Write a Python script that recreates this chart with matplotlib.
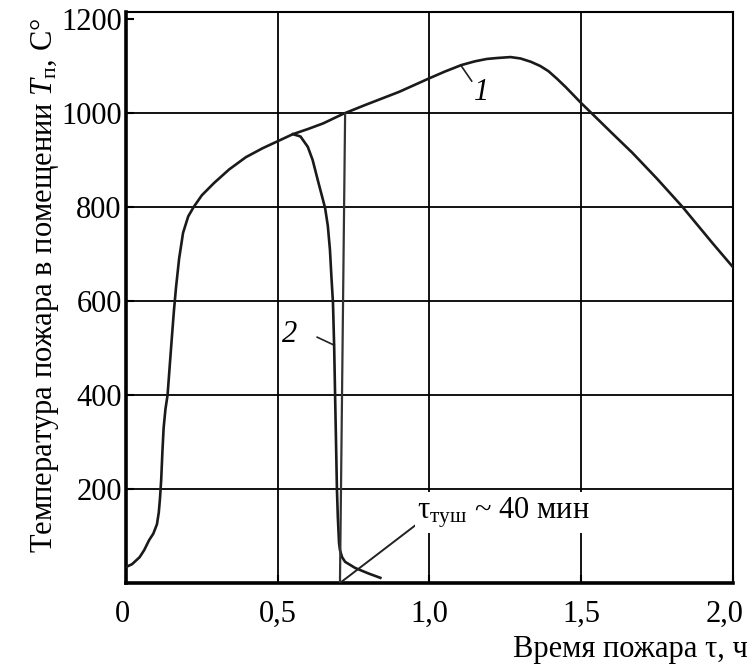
import matplotlib
matplotlib.use("Agg")
import matplotlib.pyplot as plt
import matplotlib.transforms as mtransforms

plt.rcParams['font.family'] = ['Liberation Serif', 'DejaVu Serif']
plt.rcParams['mathtext.fontset'] = 'custom'
plt.rcParams['mathtext.rm'] = 'Liberation Serif'
plt.rcParams['mathtext.it'] = 'Liberation Serif:italic'

# curve 1 - free fire, temperature vs time
t1 = [0, 0.02, 0.045, 0.06, 0.076, 0.09, 0.102, 0.108, 0.112, 0.116,
      0.12, 0.124, 0.13, 0.137, 0.145, 0.152, 0.158, 0.165, 0.175, 0.188,
      0.205, 0.223, 0.25, 0.29, 0.34, 0.395, 0.45, 0.5, 0.55, 0.6,
      0.65, 0.715, 0.788, 0.9, 1.0, 1.05, 1.105, 1.15, 1.189, 1.223,
      1.267, 1.3, 1.334, 1.365, 1.392, 1.42, 1.449, 1.5, 1.543, 1.6,
      1.669, 1.75, 1.834, 1.934, 2.0]
T1 = [34, 40, 55, 70, 91, 105, 125, 150, 180, 220,
      280, 330, 370, 400, 470, 530, 580, 630, 690, 745,
      780, 800, 825, 851, 880, 906, 925, 940, 955, 966,
      978, 998, 1017, 1045, 1074, 1088, 1102, 1110, 1115, 1117,
      1119, 1116, 1109, 1100, 1089, 1073, 1055, 1021, 994, 958,
      915, 860, 800, 722, 672]

# curve 2 - fire put out, drop after the peak
t2 = [0.55, 0.575, 0.599, 0.615, 0.632, 0.645, 0.656, 0.665, 0.672, 0.677,
      0.682, 0.686, 0.689, 0.692, 0.695, 0.698, 0.702, 0.705, 0.712, 0.722,
      0.755, 0.8, 0.838]
T2 = [955, 950, 928, 900, 857, 825, 798, 760, 709, 650,
      596, 500, 398, 300, 200, 140, 85, 70, 55, 45,
      32, 20, 11]

# extinguishing time marker and its leader
mark_t = [0.722, 0.705]
mark_T = [998, 0]
lead_t = [0.705, 0.954]
lead_T = [0, 123]

x_ticks = [0, 0.5, 1.0, 1.5, 2.0]
x_labels = ['0', '0,5', '1,0', '1,5', '2,0']
y_ticks = [200, 400, 600, 800, 1000, 1200]
x_grid = [0.5, 1.0, 1.5]
y_grid = [200, 400, 600, 800, 1000]

fig = plt.figure(figsize=(7.5, 6.64), dpi=100)
ax = fig.add_axes([0.168, 0.122, 0.8093, 0.86])
ax.set_xlim(0, 2.0)
ax.set_ylim(0, 1215)

for g in x_grid:
    ax.axvline(g, color='black', lw=1.3, zorder=1)
for g in y_grid:
    ax.axhline(g, color='black', lw=1.3, zorder=1)

line_kw = dict(color='#1a1a1a', lw=1.9, zorder=3, solid_joinstyle='round')
ax.plot(t1, T1, **line_kw)
ax.plot(t2, T2, **line_kw)
ax.plot(mark_t, mark_T, color='#333333', lw=1.6, zorder=3)
ax.plot(lead_t, lead_T, color='#222222', lw=1.4, zorder=3)

# curve numbers with short leaders
ax.plot([1.105, 1.139], [1100, 1068], color='#222222', lw=1.2)
ax.text(1.172, 1043, '1', fontsize=22, style='italic', ha='center', va='center')
ax.plot([0.63, 0.686], [523, 506], color='#222222', lw=1.2)
ax.text(0.54, 528, '2', fontsize=22, style='italic', ha='center', va='center')

ax.text(0.96, 150, 'τ$_{\\mathrm{туш}}$ ~ 40 мин', fontsize=22, ha='left', va='center',
        zorder=4, bbox=dict(facecolor='white', edgecolor='none', pad=2))

ax.set_xticks(x_ticks)
ax.set_xticklabels(x_labels)
ax.set_yticks(y_ticks)
ax.set_yticklabels([str(v) for v in y_ticks])
ax.tick_params(axis='both', direction='in', length=6, width=1.5, labelsize=22)
ax.tick_params(axis='x', pad=12)
ax.tick_params(axis='y', pad=3)

# nudge the end labels so they stay inside the figure
xl = ax.get_xticklabels()
xl[0].set_transform(xl[0].get_transform() + mtransforms.ScaledTranslation(-4 / 100, 0, fig.dpi_scale_trans))
xl[-1].set_transform(xl[-1].get_transform() + mtransforms.ScaledTranslation(-8 / 100, 0, fig.dpi_scale_trans))

for side in ['left', 'bottom']:
    ax.spines[side].set_linewidth(2.6)
for side in ['top', 'right']:
    ax.spines[side].set_linewidth(1.5)

fig.text(45 / 750, (664 - 285) / 664, 'Температура пожара в помещении $T_{\\mathrm{п}}$, С°',
         rotation=90, fontsize=22, ha='center', va='center')
fig.text(748 / 750, 7 / 664, 'Время пожара τ, ч', fontsize=22, ha='right', va='baseline')

fig.savefig('out.png', dpi=100)
